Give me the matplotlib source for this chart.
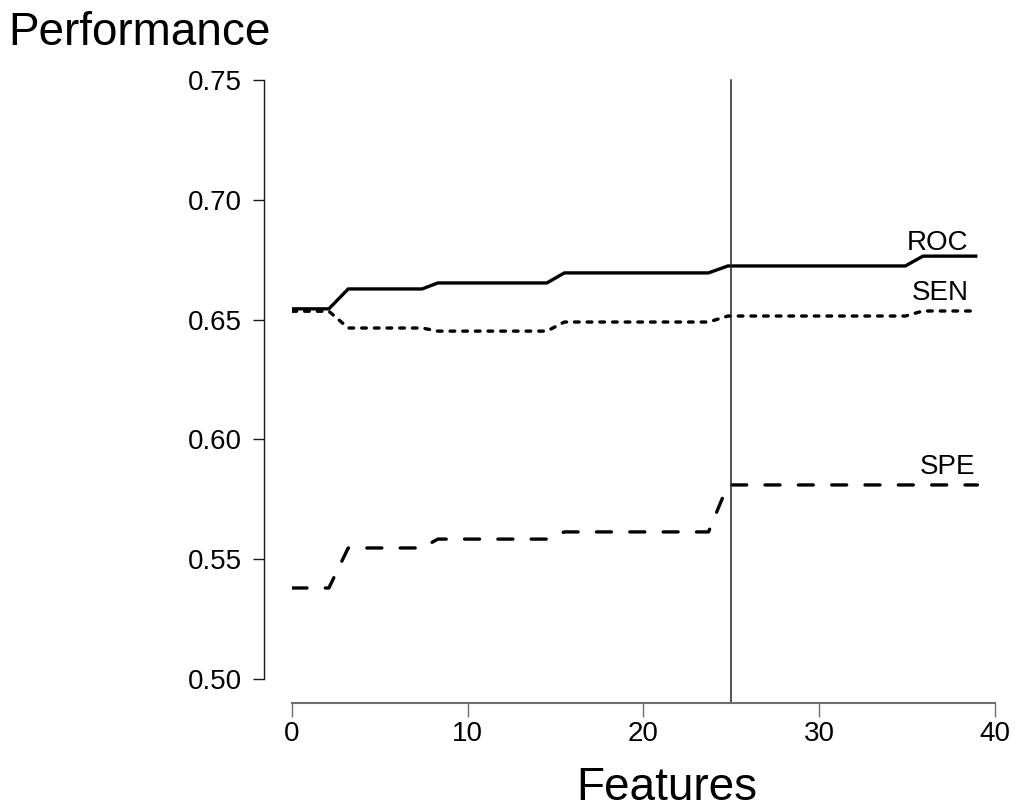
import matplotlib
matplotlib.use("Agg")
import matplotlib.pyplot as plt

# =====================================================
# DATA
# =====================================================

roc_x = [0, 2.1, 3.2, 7.4, 8.3, 14.5, 15.5, 23.7, 24.8, 34.9, 35.9, 39.0]
roc_y = [0.6545, 0.6545, 0.6628, 0.6628, 0.6653, 0.6653, 0.6695, 0.6695,
         0.6724, 0.6724, 0.6765, 0.6765]

sen_x = [0, 2.1, 3.2, 7.4, 8.3, 14.5, 15.5, 23.7, 24.8, 34.9, 35.9, 39.0]
sen_y = [0.6535, 0.6535, 0.6465, 0.6465, 0.6452, 0.6452, 0.6490, 0.6490,
         0.6515, 0.6515, 0.6536, 0.6536]

spe_x = [0, 2.1, 3.2, 7.4, 8.3, 14.5, 15.5, 23.7, 24.8, 39.0]
spe_y = [0.5380, 0.5380, 0.5547, 0.5547, 0.5584, 0.5584, 0.5614, 0.5614,
         0.5810, 0.5810]

cutoff = 25

x_ticks = [0, 10, 20, 30, 40]
y_ticks = [0.50, 0.55, 0.60, 0.65, 0.70, 0.75]

labels = ["ROC", "SEN", "SPE"]
label_x = [38.5, 38.5, 38.9]
label_y = [0.679, 0.6582, 0.5856]

# =====================================================
# FIGURE
# =====================================================

plt.rcParams["font.family"] = ["Liberation Sans", "DejaVu Sans"]

fig = plt.figure(figsize=(10.18, 8.10), dpi=100)
ax = fig.add_axes([0.2868, 0.1617, 0.6906, 0.7395])

# spines first: set_position resets the tick settings
for side in ["top", "right"]:
    ax.spines[side].set_visible(False)

ax.spines["left"].set_position(("outward", 20))
ax.spines["left"].set_bounds(0.50, 0.75)
ax.spines["left"].set_color("#1a1a1a")
ax.spines["left"].set_linewidth(1.0)

ax.spines["bottom"].set_position(("outward", 17))
ax.spines["bottom"].set_bounds(0, 40)
ax.spines["bottom"].set_color("#6e6e6e")
ax.spines["bottom"].set_linewidth(1.5)

ax.plot(roc_x, roc_y, color="black", lw=2.4, solid_capstyle="butt")
ax.plot(sen_x, sen_y, color="black", lw=2.4,
        linestyle=(0, (1.4, 2.4)), dash_capstyle="round")
ax.plot(spe_x, spe_y, color="black", lw=2.4,
        linestyle=(0, (4.5, 5.5)), dash_capstyle="round")

ax.axvline(cutoff, ymin=-0.04, ymax=1.0, color="#222222", lw=1.1,
           clip_on=False)

for txt, tx, ty in zip(labels, label_x, label_y):
    ax.text(tx, ty, txt, ha="right", va="baseline", fontsize=20)

ax.set_xlim(0, 40)
ax.set_ylim(0.50, 0.75)

ax.set_xticks(x_ticks)
ax.set_xticklabels([str(v) for v in x_ticks])
ax.set_yticks(y_ticks)
ax.set_yticklabels([f"{v:.2f}" for v in y_ticks])

ax.tick_params(axis="y", length=8, width=1.0, color="#1a1a1a", pad=8,
               labelsize=20, labelcolor="black")
ax.tick_params(axis="x", length=10, width=1.0, color="#6e6e6e", pad=3,
               labelsize=20, labelcolor="black")

fig.text(8 / 1018, 1 - 45 / 810, "Performance", fontsize=33,
         ha="left", va="baseline")
fig.text(667 / 1018, 1 - 800 / 810, "Features", fontsize=33,
         ha="center", va="baseline")

fig.savefig("out.png", dpi=100)
